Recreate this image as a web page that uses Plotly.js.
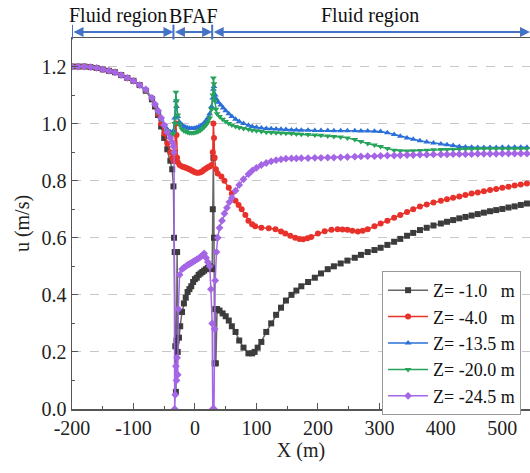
<!DOCTYPE html>
<html><head><meta charset="utf-8">
<script src="https://cdn.plot.ly/plotly-3.0.1.min.js"></script>
<style>html,body{margin:0;padding:0;background:#fff}#chart{width:530px;height:473px}</style>
</head><body><div id="chart"></div>
<script>
const seriesNames = ["Z= -1.0   m", "Z= -4.0   m", "Z= -13.5 m", "Z= -20.0 m", "Z= -24.5 m"];
const xTickVals = [-200,-100,0,100,200,300,400,500];
const xTickText = ["-200","-100","0","100","200","300","400","500"];
const yTickVals = [0.0,0.2,0.4,0.6,0.8,1.0,1.2];
const yTickText = ["0.0","0.2","0.4","0.6","0.8","1.0","1.2"];
const regionLabels = ["Fluid region","BFAF","Fluid region"];
const regionBounds = [-200,-35,28,545];

const xBlack = [-200,-190,-180,-170,-160,-150,-140,-130,-120,-110,-100,-90,-80,-70,-65,-60,-55,-50,-45,-40,-37,-35,-34,-33,-32,-31,-30,-29,-28,-26,-24,-21,-18,-15,-12,-9,-6,-3,0,3,6,9,12,15,18,21,24,27,28,29,30,31,32,33,34,36,40,45,50,55,60,66,72,79,87,93,97,102,108,116,124,132,140,148,157,165,173,184,195,205,216,226,237,248,260,270,281,292,302,313,324,334,345,355,366,377,388,400,410,420,430,440,450,460,470,480,490,500,510,520,530,540];
const uBlack = [1.2,1.2,1.2,1.198,1.195,1.19,1.185,1.18,1.17,1.16,1.15,1.135,1.115,1.085,1.06,1.03,0.99,0.95,0.91,0.87,0.84,0.78,0.6,0.55,0.22,0.06,0.24,0.55,0.2,0.25,0.29,0.34,0.37,0.39,0.41,0.42,0.43,0.445,0.455,0.46,0.47,0.475,0.48,0.485,0.49,0.495,0.5,0.495,0.49,0.7,0.88,0.6,0.16,0.35,0.16,0.35,0.345,0.335,0.325,0.31,0.29,0.27,0.24,0.215,0.195,0.195,0.2,0.215,0.235,0.27,0.3,0.33,0.355,0.38,0.4,0.415,0.43,0.445,0.46,0.475,0.49,0.5,0.51,0.52,0.53,0.54,0.55,0.557,0.565,0.575,0.586,0.596,0.607,0.617,0.627,0.635,0.643,0.65,0.656,0.662,0.668,0.673,0.678,0.683,0.688,0.693,0.697,0.701,0.706,0.71,0.715,0.72];

const xRed = [-200,-190,-180,-170,-160,-150,-140,-130,-120,-110,-100,-90,-80,-70,-65,-60,-55,-50,-45,-40,-37,-35,-33,-31,-30,-29,-28,-25,-21,-18,-15,-12,-9,-6,-3,0,3,6,9,12,15,18,21,24,27,29,30,31,32,34,37,43,48,55,60,66,71,76,82,87,93,98,108,120,131,140,147,155,163,170,176,183,189,200,211,222,232,240,248,256,265,273,281,292,302,313,324,334,345,355,366,377,388,400,410,420,430,440,450,460,470,480,490,500,510,520,530,540];
const uRed = [1.2,1.2,1.2,1.198,1.195,1.19,1.185,1.18,1.17,1.16,1.15,1.135,1.115,1.09,1.065,1.035,1.0,0.965,0.93,0.9,0.88,0.87,0.9,1.0,0.96,0.88,0.865,0.855,0.85,0.848,0.845,0.843,0.84,0.837,0.833,0.83,0.828,0.828,0.83,0.833,0.838,0.843,0.847,0.85,0.855,0.9,1.0,0.95,0.88,0.84,0.825,0.815,0.8,0.775,0.755,0.73,0.715,0.7,0.68,0.66,0.647,0.64,0.635,0.633,0.63,0.622,0.615,0.607,0.6,0.596,0.595,0.598,0.603,0.615,0.623,0.628,0.63,0.629,0.628,0.625,0.622,0.625,0.63,0.64,0.65,0.66,0.67,0.68,0.69,0.7,0.71,0.717,0.724,0.73,0.735,0.74,0.745,0.75,0.755,0.759,0.763,0.767,0.771,0.775,0.779,0.783,0.787,0.79];

const xBlue = [-200,-190,-180,-170,-160,-150,-140,-130,-120,-110,-100,-90,-80,-70,-65,-60,-55,-50,-45,-40,-37,-35,-33,-31,-30,-28,-25,-21,-18,-15,-12,-9,-6,-3,0,3,6,9,12,15,18,21,24,27,29,30,31,33,35,38,42,46,50,55,60,66,72,79,87,93,100,108,116,124,132,140,148,157,165,173,184,195,205,216,226,237,248,260,270,281,292,302,313,324,334,345,355,366,377,388,400,410,420,430,440,450,460,470,480,490,500,510,520,530,540];
const uBlue = [1.2,1.2,1.2,1.198,1.195,1.19,1.185,1.18,1.17,1.16,1.15,1.135,1.115,1.09,1.065,1.04,1.015,0.995,0.98,0.97,0.968,0.975,1.02,1.08,1.06,1.025,1.005,0.995,0.99,0.987,0.985,0.984,0.983,0.983,0.984,0.986,0.988,0.992,0.996,1.002,1.01,1.02,1.035,1.06,1.09,1.12,1.13,1.1,1.085,1.075,1.065,1.055,1.045,1.035,1.025,1.015,1.007,1.0,0.994,0.99,0.987,0.985,0.983,0.982,0.981,0.98,0.979,0.978,0.978,0.977,0.977,0.976,0.976,0.976,0.975,0.975,0.975,0.975,0.974,0.974,0.973,0.972,0.968,0.962,0.956,0.95,0.945,0.94,0.936,0.932,0.929,0.926,0.923,0.92,0.918,0.917,0.916,0.916,0.916,0.916,0.917,0.917,0.917,0.917,0.917];

const xGreen = [-200,-190,-180,-170,-160,-150,-140,-130,-120,-110,-100,-90,-80,-70,-65,-60,-55,-50,-45,-40,-37,-35,-33,-31,-30,-28,-25,-21,-18,-15,-12,-9,-6,-3,0,3,6,9,12,15,18,21,24,27,29,30,31,32,34,36,40,45,50,55,60,66,72,79,87,93,100,108,116,124,132,140,148,157,165,173,184,195,205,216,226,237,248,260,270,281,292,302,313,324,334,345,355,366,377,388,400,410,420,430,440,450,460,470,480,490,500,510,520,530,540];
const uGreen = [1.2,1.2,1.2,1.198,1.195,1.19,1.185,1.18,1.17,1.16,1.15,1.135,1.115,1.09,1.065,1.04,1.015,0.993,0.975,0.963,0.96,0.965,1.0,1.11,1.08,1.03,0.995,0.98,0.975,0.972,0.97,0.968,0.968,0.968,0.969,0.971,0.973,0.977,0.982,0.988,0.995,1.005,1.02,1.05,1.1,1.16,1.14,1.08,1.05,1.035,1.025,1.015,1.007,1.0,0.995,0.99,0.986,0.983,0.98,0.977,0.975,0.972,0.97,0.969,0.968,0.967,0.966,0.965,0.964,0.963,0.962,0.96,0.959,0.957,0.955,0.953,0.95,0.944,0.937,0.93,0.925,0.92,0.913,0.907,0.905,0.904,0.905,0.906,0.907,0.908,0.909,0.909,0.91,0.91,0.911,0.911,0.912,0.912,0.912,0.912,0.912,0.912,0.912,0.912,0.912];

const xPurple = [-200,-190,-180,-170,-160,-150,-140,-130,-120,-110,-100,-90,-80,-70,-65,-60,-55,-50,-45,-40,-37,-35,-34,-33,-32,-31,-30,-29,-28,-27,-25,-21,-18,-15,-12,-9,-6,-3,0,3,6,9,12,15,18,21,24,26,28,29,31,32,33,35,37,40,44,48,52,56,60,66,72,79,87,93,100,108,116,124,132,140,148,157,165,173,184,195,205,216,226,237,248,260,270,281,292,302,313,324,334,345,355,366,377,388,400,410,420,430,440,450,460,470,480,490,500,510,520,530,540];
const uPurple = [1.2,1.2,1.2,1.198,1.195,1.19,1.185,1.18,1.17,1.16,1.15,1.135,1.12,1.09,1.068,1.045,1.02,0.995,0.97,0.95,0.935,0.92,0.9,0.0,0.05,0.15,0.1,0.18,0.12,0.35,0.47,0.49,0.495,0.5,0.505,0.508,0.512,0.516,0.52,0.524,0.528,0.533,0.538,0.545,0.53,0.515,0.5,0.42,0.3,0.0,0.0,0.28,0.45,0.55,0.6,0.635,0.66,0.685,0.705,0.725,0.74,0.765,0.785,0.805,0.823,0.835,0.845,0.855,0.862,0.868,0.872,0.875,0.877,0.878,0.878,0.879,0.879,0.88,0.88,0.881,0.881,0.882,0.883,0.884,0.885,0.886,0.886,0.887,0.888,0.888,0.889,0.89,0.89,0.891,0.891,0.892,0.892,0.892,0.893,0.893,0.893,0.893,0.894,0.894,0.894,0.894,0.895,0.895,0.895,0.895,0.895];

const xs = [xBlack,xRed,xBlue,xGreen,xPurple];
const us = [uBlack,uRed,uBlue,uGreen,uPurple];
const colors = ["#3c3c3c","#e8312b","#2b6fd8","#27a35a","#a566e6"];
const lineColors = ["#666666","#e8312b","#2b6fd8","#27a35a","#a566e6"];
const symbols = ["square","circle","triangle-up","triangle-down","diamond"];

const traces = xs.map((x,i)=>({
  type:"scatter", mode:"lines+markers", x:x, y:us[i], name:seriesNames[i],
  line:{color:lineColors[i], width:1.5},
  marker:{color:colors[i], symbol:symbols[i], size:6}
}));

const F = "Liberation Serif, Times New Roman, serif";
const arrowY = 1.016;
const annotations = [];
const shapes = [];
for (let k=0;k<3;k++){
  annotations.push({xref:"x", yref:"paper", x:regionBounds[k+1], y:arrowY, axref:"x", ayref:"pixel", ax:regionBounds[k], ay:0,
    showarrow:true, arrowside:"end+start", arrowhead:2, arrowsize:1, arrowwidth:2, arrowcolor:"#4472c4", text:""});
  annotations.push({xref:"x", yref:"paper", x:(k===0?-125:(k===1?-3:284)), y:1.06, text:regionLabels[k], showarrow:false,
    font:{family:F, size:20, color:"#111"}, yanchor:"middle"});
}
for (let k=0;k<3;k++){
  shapes.push({type:"line", xref:"x", yref:"paper", x0:regionBounds[k], x1:regionBounds[k], y0:arrowY-0.02, y1:arrowY+0.02, line:{color:"#4472c4", width:2}});
}

const layout = {
  width:530, height:473,
  margin:{l:72, r:0, t:38, b:64},
  paper_bgcolor:"#fff", plot_bgcolor:"#fff",
  font:{family:F, size:20, color:"#222"},
  showlegend:true,
  legend:{x:0.677, y:0.372, xanchor:"left", yanchor:"top", bgcolor:"#fff", bordercolor:"#999", borderwidth:1,
    font:{family:F, size:18, color:"#111"}, tracegroupgap:0, itemwidth:40},
  xaxis:{range:[-200,545], tickvals:xTickVals, ticktext:xTickText, ticks:"inside", ticklen:6, tickcolor:"#555", showgrid:false, zeroline:false,
    showline:true, linecolor:"#555", linewidth:1.5, mirror:true,
    minor:{dtick:50, ticks:"inside", ticklen:3, tickcolor:"#555", showgrid:false},
    title:{text:"X (m)", font:{family:F, size:20, color:"#222"}, standoff:4}, tickfont:{family:F, size:20, color:"#222"}},
  yaxis:{range:[0,1.3], tickvals:yTickVals, ticktext:yTickText, ticks:"inside", ticklen:6, tickcolor:"#555", showgrid:true,
    gridcolor:"#c8c8c8", griddash:"dash", gridwidth:1, zeroline:false, showline:true, linecolor:"#555", linewidth:1.5,
    minor:{dtick:0.1, ticks:"inside", ticklen:3, tickcolor:"#555", showgrid:false},
    title:{text:"u (m/s)", font:{family:F, size:20, color:"#222"}, standoff:6}, tickfont:{family:F, size:20, color:"#222"}},
  annotations:annotations, shapes:shapes
};
Plotly.newPlot("chart", traces, layout, {displayModeBar:false, staticPlot:true});
</script></body></html>
